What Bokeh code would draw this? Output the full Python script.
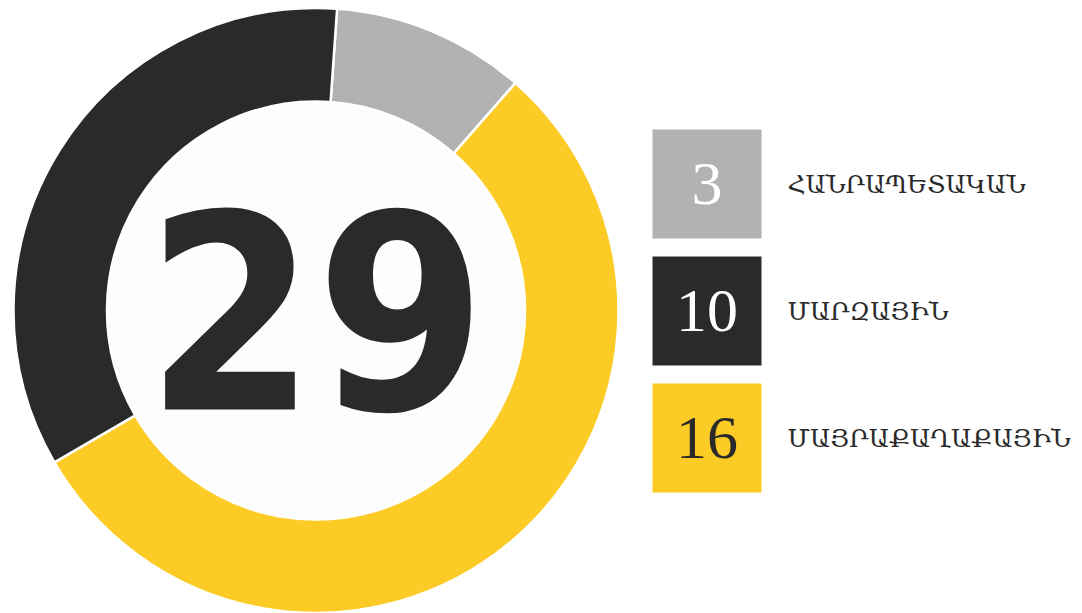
import math
from bokeh.plotting import figure
from bokeh.models import ColumnDataSource
from bokeh.core.properties import value
from bokeh.embed import file_html
from bokeh.resources import INLINE

# ---- data ----
categories = ["ՀԱՆՐԱՊԵՏԱԿԱՆ", "ՄԱՐԶԱՅԻՆ", "ՄԱՅՐԱՔԱՂԱՔԱՅԻՆ"]
counts = [3, 10, 16]
colors = ["#b1b2b1", "#2a2a2a", "#fccb26"]
number_colors = ["#ffffff", "#ffffff", "#2a2a2a"]
ring_order = [0, 2, 1]  # clockwise order in the ring

W, H = 1082, 613
p = figure(width=W, height=H, x_range=(0, W), y_range=(0, H),
           output_backend="svg", toolbar_location=None, min_border=0)
p.axis.visible = False
p.grid.visible = False
p.outline_line_color = None
p.background_fill_color = "#ffffff"
p.border_fill_color = "#ffffff"

# ---- donut ----
cx, cy = 315.5, H - 310
R_out, R_in = 302.5, 209
start_offset = math.radians(4.0)
total = sum(counts)
starts, ends, cols = [], [], []
acc = 0.0
for i in ring_order:
    a0 = start_offset + 2 * math.pi * acc / total
    acc += counts[i]
    a1 = start_offset + 2 * math.pi * acc / total
    starts.append(math.pi / 2 - a0)
    ends.append(math.pi / 2 - a1)
    cols.append(colors[i])
ring = ColumnDataSource(dict(x=[cx] * 3, y=[cy] * 3, s=starts, e=ends, c=cols))
p.circle(x=[cx], y=[cy], radius=R_in, fill_color="#fdfdfd", line_color=None)
p.annular_wedge(x="x", y="y", inner_radius=R_in, outer_radius=R_out,
                start_angle="s", end_angle="e", direction="clock",
                fill_color="c", line_color="#ffffff", line_width=2.5, source=ring)

# ---- legend ----
sq = 109
step = 127
lx = 706.5
ly0 = H - 183.5
ys = [ly0 - k * step for k in range(len(categories))]
leg = ColumnDataSource(dict(x=[lx] * 3, y=ys, c=colors, n=[str(v) for v in counts],
                            nc=number_colors, lab=categories,
                            lxs=[787] * 3))
p.rect(x="x", y="y", width=sq, height=sq, fill_color="c", line_color=None, source=leg)
p.text(x="lxs", y="y", text="lab", text_color="#2a2a2a", text_align="left",
       text_baseline="middle", text_font=value("DejaVu Serif"),
       text_font_size="25px", source=leg)
p.text(x="x", y="y", text="n", text_color="nc", text_align="center",
       text_baseline="middle", text_font=value("Liberation Serif"),
       text_font_size="62px", source=leg)

center_src = ColumnDataSource(dict(x=[cx], y=[H - 309], t=[str(total)]))
p.text(x="x", y="y", text="t", text_align="center",
       text_baseline="middle", text_color="#2a2a2a",
       text_font=value("DejaVu Sans Condensed, Roboto Condensed, Liberation Sans Narrow, Roboto, sans-serif"),
       text_font_style="bold", text_font_size="272px", source=center_src)

open("out.html", "w").write(file_html(p, INLINE))
